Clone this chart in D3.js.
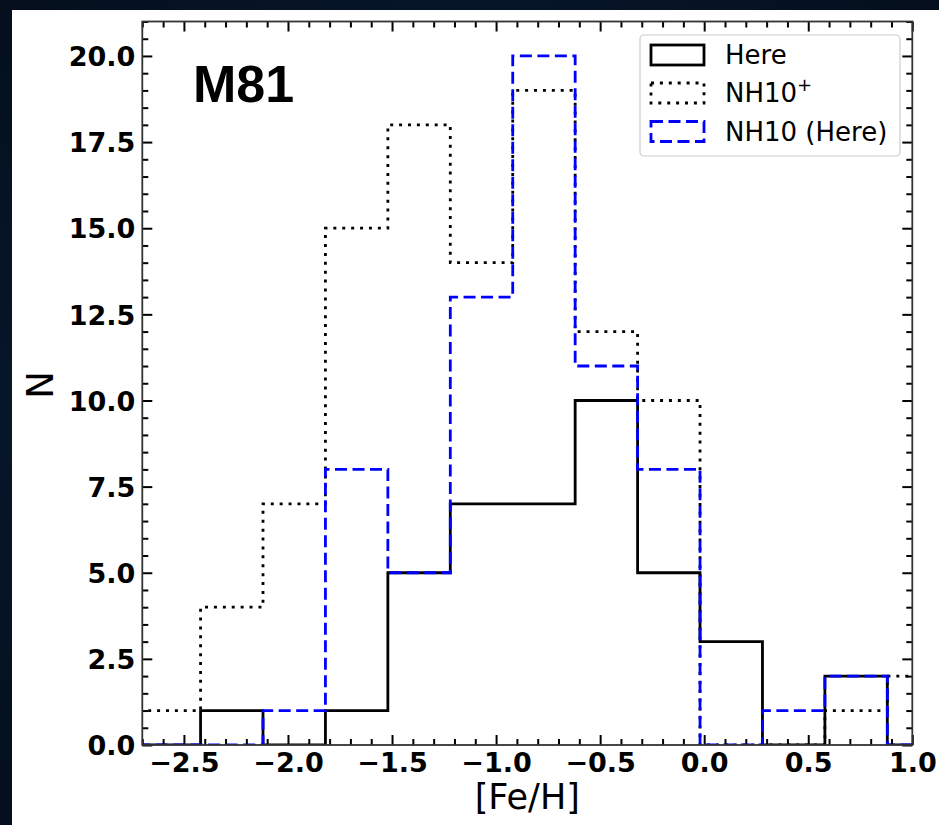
<!DOCTYPE html>
<html>
<head>
<meta charset="utf-8">
<script src="https://cdn.jsdelivr.net/npm/d3@7/dist/d3.min.js"></script>
<style>
html,body{margin:0;padding:0;background:#061528;}
svg{display:block;}
</style>
</head>
<body>
<svg id="chart" width="939" height="825"></svg>
<script>
// ---- data ----
const binEdges = [-2.72, -2.42, -2.12, -1.82, -1.52, -1.22, -0.92, -0.62, -0.32, -0.02, 0.28, 0.58, 0.88, 1.18];
const here     = [0, 1, 0, 1, 5, 7, 7, 10, 5, 3, 0, 2, 0];
const nh10plus = [1, 4, 7, 15, 18, 14, 19, 12, 10, 0, 0, 1, 2];
const nh10here = [0, 0, 1, 8, 5, 13, 20, 11, 8, 0, 1, 2, 0];
const xMajorTicks = [-2.5, -2.0, -1.5, -1.0, -0.5, 0.0, 0.5, 1.0];
const yMajorTicks = [0, 2.5, 5, 7.5, 10, 12.5, 15, 17.5, 20];
const seriesNames = ["Here", "NH10", "NH10 (Here)"];

const svg = d3.select("#chart");

// background + white panel
const defs = svg.append("defs");
const grad = defs.append("radialGradient").attr("id","bg").attr("cx","50%").attr("cy","50%").attr("r","75%");
grad.append("stop").attr("offset","0%").attr("stop-color","#0b2442");
grad.append("stop").attr("offset","100%").attr("stop-color","#040d1a");
svg.append("rect").attr("width",939).attr("height",825).attr("fill","url(#bg)");
svg.append("rect").attr("x",12).attr("y",10).attr("width",927).attr("height",815).attr("fill","#ffffff");

const L = 142.3, R = 912.3, T = 21.5, B = 745;
const x = d3.scaleLinear().domain([-2.7, 1.0]).range([L, R]);
const y = d3.scaleLinear().domain([0, 21]).range([B, T]);

defs.append("clipPath").attr("id","plotclip").append("rect")
  .attr("x",L).attr("y",T).attr("width",R-L).attr("height",B-T);

function stepPath(vals){
  const pts = [[binEdges[0], 0]];
  vals.forEach((v,i)=>{ pts.push([binEdges[i], v]); pts.push([binEdges[i+1], v]); });
  pts.push([binEdges[binEdges.length-1], 0]);
  return d3.line().x(d=>x(d[0])).y(d=>y(d[1]))(pts);
}

const g = svg.append("g").attr("clip-path","url(#plotclip)");
const styles = [
  {vals: here, stroke:"#000000", dash:null, w:2.8},
  {vals: nh10plus, stroke:"#000000", dash:"3,5.9", w:2.8},
  {vals: nh10here, stroke:"#0000ff", dash:"12,5.5", w:2.8}
];
styles.forEach(s=>{
  g.append("path").attr("d", stepPath(s.vals)).attr("fill","none")
   .attr("stroke", s.stroke).attr("stroke-width", s.w)
   .attr("stroke-dasharray", s.dash).attr("stroke-linecap","butt").attr("stroke-linejoin","miter");
});

// axes with inward ticks on all sides
const xMinor = d3.range(-27, 11).map(d=>d/10).filter(v=>!xMajorTicks.some(m=>Math.abs(m-v)<1e-6));
const yMinor = d3.range(0, 43).map(d=>d/2).filter(v=>!yMajorTicks.some(m=>Math.abs(m-v)<1e-6) && v<=21);

function addAxis(axisGen, tx, ty){
  const a = svg.append("g").attr("transform",`translate(${tx},${ty})`).call(axisGen);
  a.select(".domain").remove();
  a.selectAll(".tick line").attr("stroke","#000").attr("stroke-width",2);
  return a;
}
const fmt = d3.format(".1f");
// bottom
addAxis(d3.axisBottom(x).tickValues(xMinor).tickSize(-6).tickFormat(""), 0, B);
const xb = addAxis(d3.axisBottom(x).tickValues(xMajorTicks).tickSize(-10).tickFormat(fmt).tickPadding(0), 0, B);
xb.selectAll(".tick text").attr("y", 27).attr("dy", 0)
  .style("font-family","'DejaVu Sans'").style("font-weight","bold").style("font-size","27px").attr("fill","#000");
// top
addAxis(d3.axisTop(x).tickValues(xMinor).tickSize(-6).tickFormat(""), 0, T);
addAxis(d3.axisTop(x).tickValues(xMajorTicks).tickSize(-10).tickFormat(""), 0, T);
// left
addAxis(d3.axisLeft(y).tickValues(yMinor).tickSize(-6).tickFormat(""), L, 0);
const yl = addAxis(d3.axisLeft(y).tickValues(yMajorTicks).tickSize(-10).tickFormat(fmt).tickPadding(0), L, 0);
yl.selectAll(".tick text").attr("x", -7).attr("dy","0.36em")
  .style("font-family","'DejaVu Sans'").style("font-weight","bold").style("font-size","27px").attr("fill","#000");
// right
addAxis(d3.axisRight(y).tickValues(yMinor).tickSize(-6).tickFormat(""), R, 0);
addAxis(d3.axisRight(y).tickValues(yMajorTicks).tickSize(-10).tickFormat(""), R, 0);

// spines
svg.append("rect").attr("x",L).attr("y",T).attr("width",R-L).attr("height",B-T)
  .attr("fill","none").attr("stroke","#333").attr("stroke-width",1.8);

// axis labels
svg.append("text").attr("x",(L+R)/2).attr("y",809).attr("text-anchor","middle")
  .style("font-family","'DejaVu Sans'").style("font-size","35px").attr("fill","#000").text("[Fe/H]");
svg.append("text").attr("transform",`translate(53,385) rotate(-90)`).attr("text-anchor","middle")
  .style("font-family","'DejaVu Sans'").style("font-size","37px").attr("fill","#000").text("N");

// M81 label
svg.append("text").attr("x",193).attr("y",102)
  .style("font-family","'Liberation Sans', Arial, sans-serif").style("font-weight","bold").style("font-size","52px")
  .attr("fill","#000").text("M81");

// legend
const lg = svg.append("g");
lg.append("rect").attr("x",640).attr("y",35).attr("width",260).attr("height",121).attr("rx",4)
  .attr("fill","#fff").attr("fill-opacity",0.8).attr("stroke","#cccccc").attr("stroke-width",1.2);
const rowY = [55, 93, 131.5];
styles.forEach((s,i)=>{
  lg.append("rect").attr("x",651).attr("y",rowY[i]-10).attr("width",53).attr("height",20)
    .attr("fill","none").attr("stroke",s.stroke).attr("stroke-width",s.w)
    .attr("stroke-dasharray",s.dash);
  const t = lg.append("text").attr("x",725).attr("y",rowY[i]+9)
    .style("font-family","'DejaVu Sans'").style("font-size","26px").attr("fill","#000");
  t.append("tspan").text(seriesNames[i]);
  if(i===1){ t.append("tspan").attr("dy",-11).style("font-size","18px").text("+"); }
});
</script>
</body>
</html>
